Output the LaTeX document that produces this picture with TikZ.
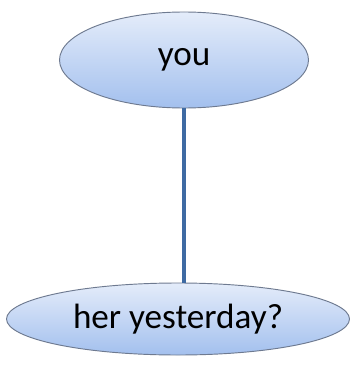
\documentclass[tikz,border=0pt]{standalone}
\usepackage{fontspec}
\setmainfont{Carlito}
\usepackage{tikz}
\usetikzlibrary{shapes.geometric}

\definecolor{elltop}{HTML}{E4ECFA}
\definecolor{ellbot}{HTML}{A3C0EE}
\definecolor{ellrim}{HTML}{6E7A90}
\definecolor{linkcol}{HTML}{3E6AA3}

\begin{document}
\begin{tikzpicture}[
                x=0.03cm, y=-0.03cm,
                font=\fontsize{30}{34}\selectfont,
                word/.style={ellipse, draw=ellrim, line width=0.8pt, top color=elltop, bottom color=ellbot, inner sep=0pt, align=center},
                link/.style={draw=linkcol, line width=3.4pt},
            ]
            \useasboundingbox (0,0) rectangle (352,367);
            \node[word, minimum width=7.47cm, minimum height=2.88cm] (you) at (184,60) {you};
            \node[word, minimum width=10.29cm, minimum height=2.16cm] (her) at (178,319) {her yesterday?};

            \draw[link] (you) -- (you |- her.north);
        \end{tikzpicture}
\end{document}
